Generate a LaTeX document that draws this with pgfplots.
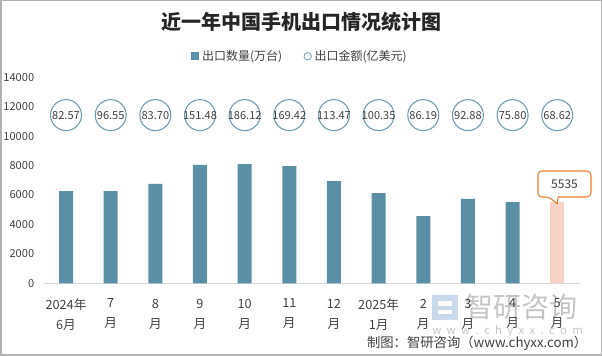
\documentclass[border=0pt]{standalone}
\usepackage{fontspec}
\setmainfont{Noto Sans CJK SC}
\usepackage{pgfplots}
\pgfplotsset{compat=1.18}
\usetikzlibrary{calc}
\definecolor{barc}{HTML}{5B8FA6}
\definecolor{lastc}{HTML}{F8D1C7}
\definecolor{circc}{HTML}{6E9BB2}
\definecolor{calc}{HTML}{ED7D31}
\definecolor{txt}{HTML}{404040}
\definecolor{wm}{HTML}{C4C4C4}
\definecolor{wmb}{HTML}{C9D9EA}
\begin{document}
\begin{tikzpicture}
\path[use as bounding box] (0,0) rectangle (451.5pt,267pt);
\begin{scope}[x=0.75pt,y=-0.75pt,shift={(0pt,267pt)}]
% watermark
\node[text=wm, font=\fontsize{21}{21}\selectfont, anchor=west, inner sep=0pt] at (465,307) {智研咨询};
\node[text=wm, font=\fontsize{8.5}{9}\selectfont, anchor=west, inner sep=0pt] at (432,331) {w\kern4pt w\kern4pt w\kern4pt .\kern4pt c\kern4pt h\kern4pt y\kern4pt x\kern4pt x\kern4pt .\kern4pt c\kern4pt o\kern4pt m};
\fill[wmb] (432,295) rectangle (458,320);
\fill[white] (438,301) rectangle (452,306);
\fill[white] (438,310) rectangle (452,314);
\end{scope}
\begin{axis}[
  at={(32.775pt,54.525pt)}, anchor=south west,
  scale only axis, width=401.9pt, height=154.5pt,
  xmin=-0.5, xmax=11.5, ymin=0, ymax=14000,
  axis x line=bottom, axis y line=left,
  x axis line style={draw=gray!30, line width=0.8pt, -},
  y axis line style={draw=none},
  tick style={draw=none},
  ytick={0,2000,...,14000},
  scaled y ticks=false,
  yticklabel style={font=\fontsize{8.3}{10}\selectfont, text=txt, xshift=-1.5pt},
  /pgf/number format/1000 sep={},
  /pgf/number format/assume math mode=true,
  xtick={0,...,11},
  xticklabels={{2024年\\6月},{7\\月},{8\\月},{9\\月},{10\\月},{11\\月},{12\\月},{2025年\\1月},{2\\月},{3\\月},{4\\月},{5\\月}},
  xticklabel style={align=center, font=\fontsize{9.5}{15}\selectfont, text=txt, yshift=-6pt},
  legend style={at={(0.479,1)}, anchor=south, yshift=7pt, draw=none, fill=none,
    font=\fontsize{9}{10}\selectfont, text=txt, legend columns=2,
    /tikz/every even column/.append style={column sep=14pt}},
  clip=false,
]
\addplot[ybar, bar width=10.5pt, bar shift=0pt, fill=barc, draw=none,
  legend image code/.code={\fill[barc] (0pt,-3pt) rectangle (6pt,3pt);}]
  coordinates {(0,6270) (1,6270) (2,6750) (3,8040) (4,8100) (5,7970) (6,6950) (7,6130) (8,4570) (9,5730) (10,5520)};
\addlegendentry{出口数量(万台)}
\addplot[ybar, bar width=10.5pt, bar shift=0pt, fill=lastc, draw=none, forget plot]
  coordinates {(11,5535)};
\addplot[only marks, mark=o, mark size=11.6pt, mark options={draw=circc, line width=0.8pt},
  point meta=explicit symbolic,
  nodes near coords, nodes near coords style={anchor=center, font=\fontsize{8.3}{10}\selectfont, text=txt},
  legend image code/.code={\draw[circc, line width=0.6pt] (3pt,0pt) circle (2.8pt);}]
  coordinates {(0,11430)[82.57] (1,11430)[96.55] (2,11430)[83.70] (3,11430)[151.48] (4,11430)[186.12] (5,11430)[169.42] (6,11430)[113.47] (7,11430)[100.35] (8,11430)[86.19] (9,11430)[92.88] (10,11430)[75.80] (11,11430)[68.62]};
\addlegendentry{出口金额(亿美元)}
\coordinate (tip) at (axis cs:11,5535);
\end{axis}
\begin{scope}[x=0.75pt,y=-0.75pt,shift={(0pt,267pt)}]
% callout
\draw[calc, fill=white, line width=0.8pt, rounded corners=3]
  (558,197) -- (591,197) -- (591,171) -- (538,171) -- (538,197) -- (549,197) [sharp corners] -- ($(tip)+(0,2)$) -- cycle;
\node[text=txt, font=\fontsize{9}{10}\selectfont] at (564.5,184) {5535};
% title
\node[font=\fontsize{15}{16}\selectfont\bfseries, text=black!85] at (301,22) {近一年中国手机出口情况统计图};
% footer
\node[anchor=east, text=txt, font=\fontsize{10}{12}\selectfont] at (592,343) {制图：智研咨询（www.chyxx.com）};
\draw[gray!60, line width=1.125pt] (0.75,0.75) rectangle (601.25,355.25);
\end{scope}
\end{tikzpicture}
\end{document}
